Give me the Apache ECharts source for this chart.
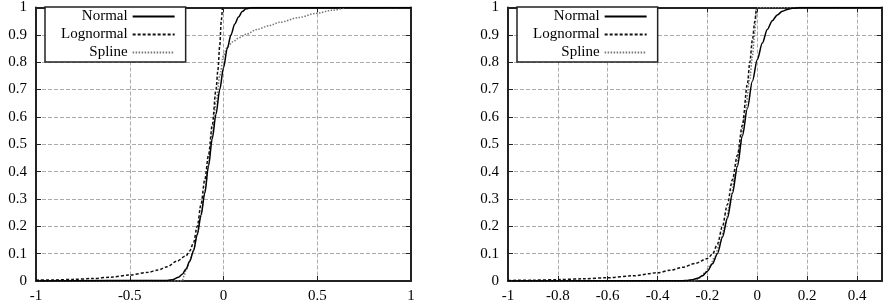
<!DOCTYPE html>
<html>
<head>
<meta charset="utf-8">
<script src="https://cdn.jsdelivr.net/npm/echarts@6/dist/echarts.min.js"></script>
<style>
html,body{margin:0;padding:0;background:#fff;}
#chart{width:890px;height:306px;}
</style>
</head>
<body>
<div id="chart"></div>
<script>
// left panel, points [x, F(x)]
var normalL = [[-1,0],[-0.3,0.002],[-0.27,0.005],[-0.24,0.014],[-0.22,0.025],[-0.2,0.044],[-0.18,0.072],[-0.16,0.11],[-0.14,0.17],[-0.12,0.24],[-0.1,0.32],[-0.08,0.42],[-0.06,0.52],[-0.04,0.61],[-0.02,0.7],[0,0.78],[0.02,0.85],[0.04,0.9],[0.06,0.94],[0.08,0.965],[0.1,0.985],[0.12,0.995],[0.15,1],[1,1]];
var lognormalL = [[-1,0.003],[-0.9,0.004],[-0.8,0.006],[-0.7,0.009],[-0.6,0.014],[-0.5,0.022],[-0.4,0.032],[-0.35,0.04],[-0.3,0.052],[-0.25,0.072],[-0.2,0.092],[-0.18,0.11],[-0.16,0.14],[-0.14,0.2],[-0.12,0.28],[-0.1,0.37],[-0.08,0.46],[-0.06,0.57],[-0.04,0.7],[-0.03,0.77],[-0.02,0.86],[-0.012,0.95],[-0.006,1]];
var splineL = [[-1,0],[-0.22,0],[-0.21,0.02],[-0.2,0.04],[-0.18,0.075],[-0.16,0.115],[-0.14,0.17],[-0.12,0.24],[-0.1,0.33],[-0.08,0.43],[-0.06,0.54],[-0.04,0.65],[-0.02,0.75],[0,0.825],[0.02,0.855],[0.05,0.875],[0.085,0.89],[0.12,0.902],[0.18,0.92],[0.245,0.934],[0.3,0.946],[0.4,0.963],[0.49,0.978],[0.58,0.99],[0.67,1],[1,1]];
// right panel
var normalR = [[-1,0],[-0.3,0.001],[-0.28,0.002],[-0.26,0.005],[-0.24,0.01],[-0.22,0.019],[-0.2,0.036],[-0.18,0.063],[-0.16,0.1],[-0.14,0.16],[-0.12,0.23],[-0.1,0.32],[-0.08,0.42],[-0.06,0.53],[-0.04,0.63],[-0.02,0.73],[0,0.81],[0.02,0.87],[0.04,0.92],[0.06,0.952],[0.08,0.973],[0.1,0.986],[0.12,0.993],[0.14,0.997],[0.17,1],[0.5,1]];
var lognormalR = [[-1,0.002],[-0.9,0.003],[-0.8,0.005],[-0.7,0.008],[-0.6,0.012],[-0.5,0.019],[-0.4,0.03],[-0.35,0.039],[-0.3,0.05],[-0.25,0.064],[-0.2,0.082],[-0.18,0.098],[-0.16,0.135],[-0.14,0.2],[-0.12,0.28],[-0.1,0.37],[-0.08,0.46],[-0.06,0.57],[-0.04,0.72],[-0.03,0.8],[-0.02,0.88],[-0.01,0.95],[-0.004,1]];
var splineR = [[-1,0],[-0.25,0],[-0.23,0.012],[-0.21,0.03],[-0.19,0.055],[-0.17,0.09],[-0.15,0.14],[-0.13,0.2],[-0.11,0.28],[-0.09,0.38],[-0.07,0.49],[-0.05,0.61],[-0.03,0.74],[-0.02,0.82],[-0.01,0.91],[-0.003,1],[0.5,1]];

var names = ['Normal','Lognormal','Spline'];
var font = 'Liberation Serif';

var myChart = echarts.init(document.getElementById('chart'));

function xAx(grid, min, max, step, pos){
    var mirror = pos == 'top';
    return {
        type:'value', gridIndex:grid, min:min, max:max, interval:step, position:pos,
        axisLine:{show:true, onZero:false, lineStyle:{color:'#222', width:2}},
        axisTick:{show:true, inside:true, length:5, lineStyle:{color:'#222', width:1}},
        axisLabel:{show:!mirror, margin:8, color:'#000', fontFamily:font, fontSize:15,
            formatter:function(v){ return (v > max - 1e-9 && max == 0.5) ? '' : String(+v.toFixed(2)); }},
        splitLine:{show:!mirror, lineStyle:{color:'#aaa', width:1, type:[4,2]}}
    };
}
function yAx(grid, pos){
    var mirror = pos == 'right';
    return {
        type:'value', gridIndex:grid, min:0, max:1, interval:0.1, position:pos,
        axisLine:{show:true, onZero:false, lineStyle:{color:'#222', width:2}},
        axisTick:{show:true, inside:true, length:5, lineStyle:{color:'#222', width:1}},
        axisLabel:{show:!mirror, margin:9, color:'#000', fontFamily:font, fontSize:15,
            formatter:function(v){ return String(+v.toFixed(2)); }},
        splitLine:{show:!mirror, lineStyle:{color:'#aaa', width:1, type:[4,2]}}
    };
}

var styles = [
    {color:'#000', width:1.5, type:'solid'},
    {color:'#111', width:1.5, type:[3,2]},
    {color:'#777', width:1.5, type:[1.5,1.5]}
];

function mkSeries(name, data, xi, yi, k){
    return {
        name:name, type:'line', data:data, xAxisIndex:xi, yAxisIndex:yi,
        symbol:'none', smooth:0.3, smoothMonotone:'x',
        lineStyle:styles[k], itemStyle:{color:styles[k].color},
        z: 3 - k
    };
}

function mkLegend(left){
    return {
        data:names, orient:'vertical', left:left, top:7, align:'right',
        itemWidth:42, itemHeight:13, itemGap:3,
        padding:[2,10,2,16],
        borderColor:'#222', borderWidth:1.5, backgroundColor:'#fff',
        itemStyle:{color:'rgba(0,0,0,0)', borderWidth:0, opacity:0},
        textStyle:{fontFamily:font, fontSize:15, color:'#000'},
        selectedMode:false
    };
}

var option = {
    animation:false,
    backgroundColor:'#fff',
    grid:[
        {left:36, top:5, width:375, height:276},
        {left:508, top:5, width:374, height:276}
    ],
    legend:[mkLegend(45), mkLegend(517)],
    xAxis:[
        xAx(0,-1,1,0.5,'bottom'), xAx(0,-1,1,0.5,'top'),
        xAx(1,-1,0.5,0.2,'bottom'), xAx(1,-1,0.5,0.2,'top')
    ],
    yAxis:[yAx(0,'left'), yAx(0,'right'), yAx(1,'left'), yAx(1,'right')],
    series:[
        mkSeries('Normal', normalL, 0, 0, 0),
        mkSeries('Lognormal', lognormalL, 0, 0, 1),
        mkSeries('Spline', splineL, 0, 0, 2),
        mkSeries('Normal', normalR, 2, 2, 0),
        mkSeries('Lognormal', lognormalR, 2, 2, 1),
        mkSeries('Spline', splineR, 2, 2, 2)
    ]
};
myChart.setOption(option);
</script>
</body>
</html>
